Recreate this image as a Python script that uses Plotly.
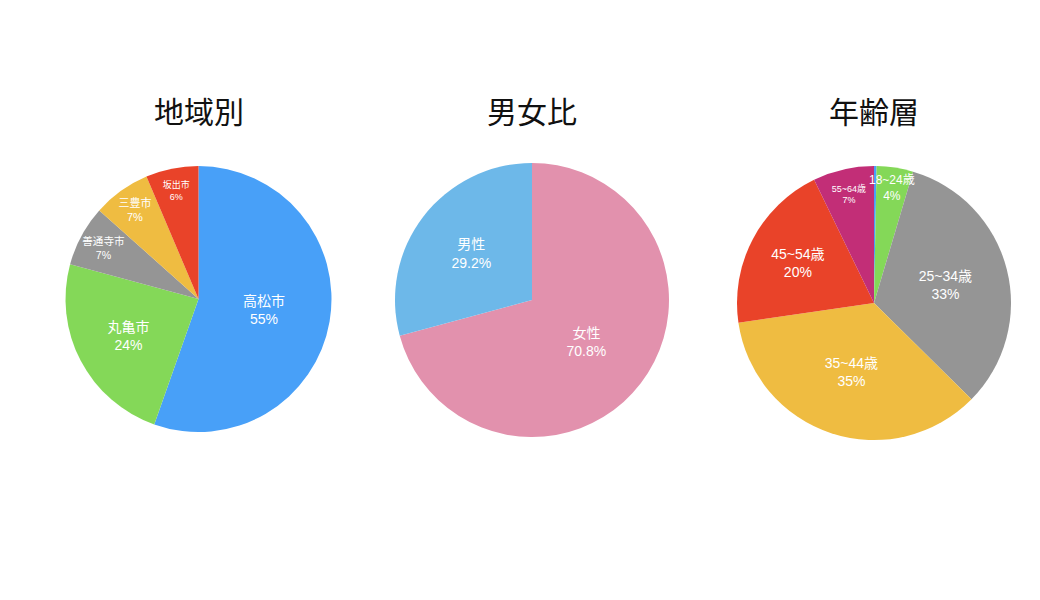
import math
import plotly.graph_objects as go

FONT = "Liberation Sans, Noto Sans CJK JP"
TFONT = "Noto Sans CJK JP"
W, H = 1040, 600
OFF = 8  # default page body margin

# Region
region_labels = ["高松市", "丸亀市", "善通寺市", "三豊市", "坂出市"]
region_values = [55.4, 23.8, 7.4, 7.0, 6.4]
region_colors = ["#48A0F8", "#84D858", "#959595", "#EFBC41", "#E94329"]
region_text_sizes = [14, 14, 11, 11, 9]

# Gender
gender_labels = ["女性", "男性"]
gender_values = [70.8, 29.2]
gender_colors = ["#E291AD", "#6DB8E9"]
gender_text_sizes = [14, 14]

# Age
age_labels = ["18歳未満", "18~24歳", "25~34歳", "35~44歳", "45~54歳", "55~64歳"]
age_values = [0.3, 4.3, 32.8, 35.3, 20.1, 7.2]
age_colors = ["#48A0F8", "#84D858", "#959595", "#EFBC41", "#E94329", "#C22E77"]
age_text_sizes = [1, 12, 14, 14, 14, 9]
age_text_pos = ["none", "none", "inside", "inside", "inside", "inside"]

titles = ["地域別", "男女比", "年齢層"]
# pie centers and radii in page pixels
centers = [(198.5, 299.0, 133.0), (532.0, 300.0, 137.0), (874.0, 303.0, 137.0)]


def dom(cx, cy, r):
    cx -= OFF
    cy -= OFF
    return dict(x=[(cx - r) / W, (cx + r) / W], y=[1 - (cy + r) / H, 1 - (cy - r) / H])


fig = go.Figure()

fig.add_trace(go.Pie(
    labels=region_labels, values=region_values, sort=False, direction="clockwise",
    rotation=0, marker=dict(colors=region_colors, line=dict(width=0)),
    texttemplate="%{label}<br>%{percent:.0%}", textposition="inside",
    insidetextorientation="horizontal",
    textfont=dict(family=FONT, color="white", size=region_text_sizes),
    domain=dom(*centers[0]), showlegend=False,
))

fig.add_trace(go.Pie(
    labels=gender_labels, values=gender_values, sort=False, direction="clockwise",
    rotation=0, marker=dict(colors=gender_colors, line=dict(width=0)),
    texttemplate="%{label}<br>%{percent:.1%}", textposition="inside",
    insidetextorientation="horizontal",
    textfont=dict(family=FONT, color="white", size=gender_text_sizes),
    domain=dom(*centers[1]), showlegend=False,
))

fig.add_trace(go.Pie(
    labels=age_labels, values=age_values, sort=False, direction="clockwise",
    rotation=0, marker=dict(colors=age_colors, line=dict(width=0)),
    texttemplate="%{label}<br>%{percent:.0%}", textposition=age_text_pos,
    insidetextorientation="horizontal",
    textfont=dict(family=FONT, color="white", size=age_text_sizes),
    domain=dom(*centers[2]), showlegend=False,
))

annotations = []
for t, (cx, cy, r) in zip(titles, centers):
    annotations.append(dict(
        text=t, x=(cx - OFF) / W, y=1 - (110 - OFF) / H, xref="paper", yref="paper",
        showarrow=False, xanchor="center", yanchor="middle",
        font=dict(family=TFONT, size=30, color="#111111"),
    ))

# label for the narrow 18~24 slice, placed from the data (mid-angle of the slice)
total = sum(age_values)
start = sum(age_values[:1])
mid = (start + age_values[1] / 2) / total * 2 * math.pi
cx, cy, r = centers[2]
lx = cx - OFF + 0.85 * r * math.sin(mid)
ly = cy - OFF - 0.85 * r * math.cos(mid)
annotations.append(dict(
    text="%s<br>%d%%" % (age_labels[1], round(age_values[1] / total * 100)),
    x=lx / W, y=1 - ly / H, xref="paper", yref="paper", showarrow=False,
    xanchor="center", yanchor="middle",
    font=dict(family=FONT, size=12, color="white"),
))

fig.update_layout(
    width=W, height=H, margin=dict(l=0, r=0, t=0, b=0),
    paper_bgcolor="white", plot_bgcolor="white",
    annotations=annotations, font=dict(family=FONT),
)

fig.write_html("out.html")
